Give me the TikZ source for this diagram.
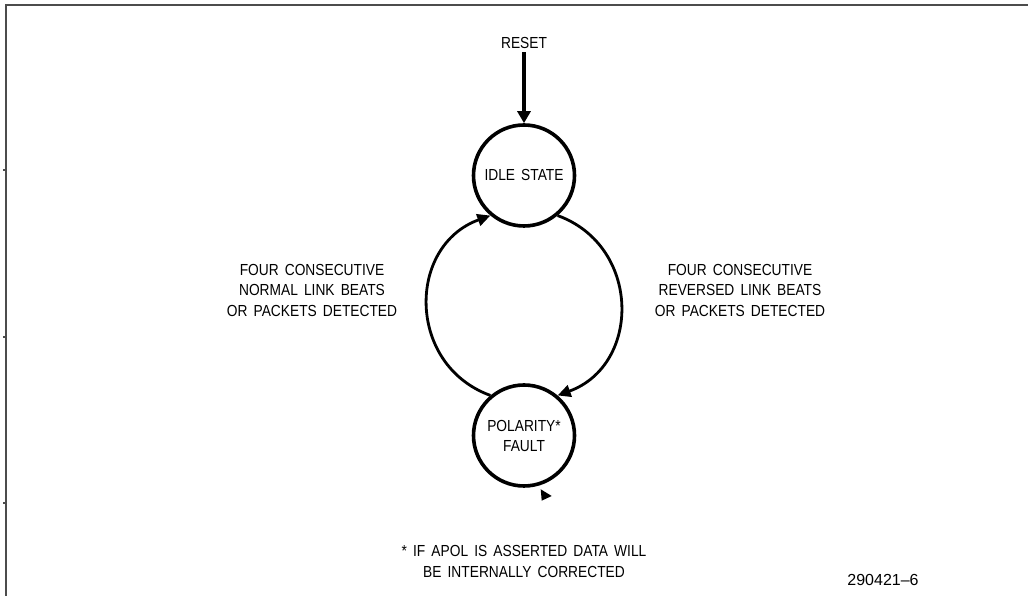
\documentclass[tikz,border=0pt]{standalone}
\usepackage{fontspec}
\setmainfont{Liberation Sans}
\newfontfamily\plotfont[FakeStretch=0.86,WordSpace=1.6]{Liberation Sans}
\usetikzlibrary{arrows.meta,positioning,calc}
\tikzset{
  loc/.style   = { draw, circle, line width=3.6pt, minimum size=101pt, inner sep=0pt,
    align=center, font=\plotfont\fontsize{16}{20}\selectfont },
  lbl/.style   = { align=center, font=\plotfont\fontsize{16}{20.5}\selectfont },
  trans/.style = { line width=2.8pt, -{Triangle[length=13pt,width=12pt]} },
  rst/.style   = { line width=3.6pt, -{Triangle[length=12pt,width=13pt]} },
  frame/.style = { draw=black!70, line width=2pt }
}

\begin{document}
\begin{tikzpicture}[x=1pt,y=1pt,on grid]
    \useasboundingbox (0,0) rectangle (1028,596);
    % page frame with small ticks
    \draw[frame] (1028,591) -- (6,591) -- (6,0);
    \draw[frame] (3,426) -- (6,426);
    \draw[frame] (3,259) -- (6,259);
    \draw[frame] (3,93) -- (6,93);

    \node[loc] (idle) at (524,420.5) {IDLE STATE};
    \node[loc, below=260pt of idle] (pf) {POLARITY*\\FAULT};
    \node[lbl, above=132.5pt of idle] (reset) {RESET};

    \node[lbl] (nrm) at (312,306) {FOUR CONSECUTIVE\\NORMAL LINK BEATS\\OR PACKETS DETECTED};
    \node[lbl] (rev) at (740,306) {FOUR CONSECUTIVE\\REVERSED LINK BEATS\\OR PACKETS DETECTED};
    \node[lbl] (note) at (524,34.5) {* IF APOL IS ASSERTED DATA WILL\\BE INTERNALLY CORRECTED};
    \node[font=\fontsize{16}{19}\selectfont] (fig) at (883,16) {290421--6};

    \draw[rst] (reset) -- (idle);
    \draw[trans] (pf.130) to[out=160,in=200,looseness=1.27] (idle.230);
    \draw[trans] (idle.310) to[out=-20,in=20,looseness=1.27] (pf.50);
    % tip on the fault state
    \fill ($(pf.center)+(16.7,-53.8)$) -- ($(pf.center)+(27.7,-60.5)$)
      -- ($(pf.center)+(17.7,-65.2)$) -- cycle;
\end{tikzpicture}
\end{document}
